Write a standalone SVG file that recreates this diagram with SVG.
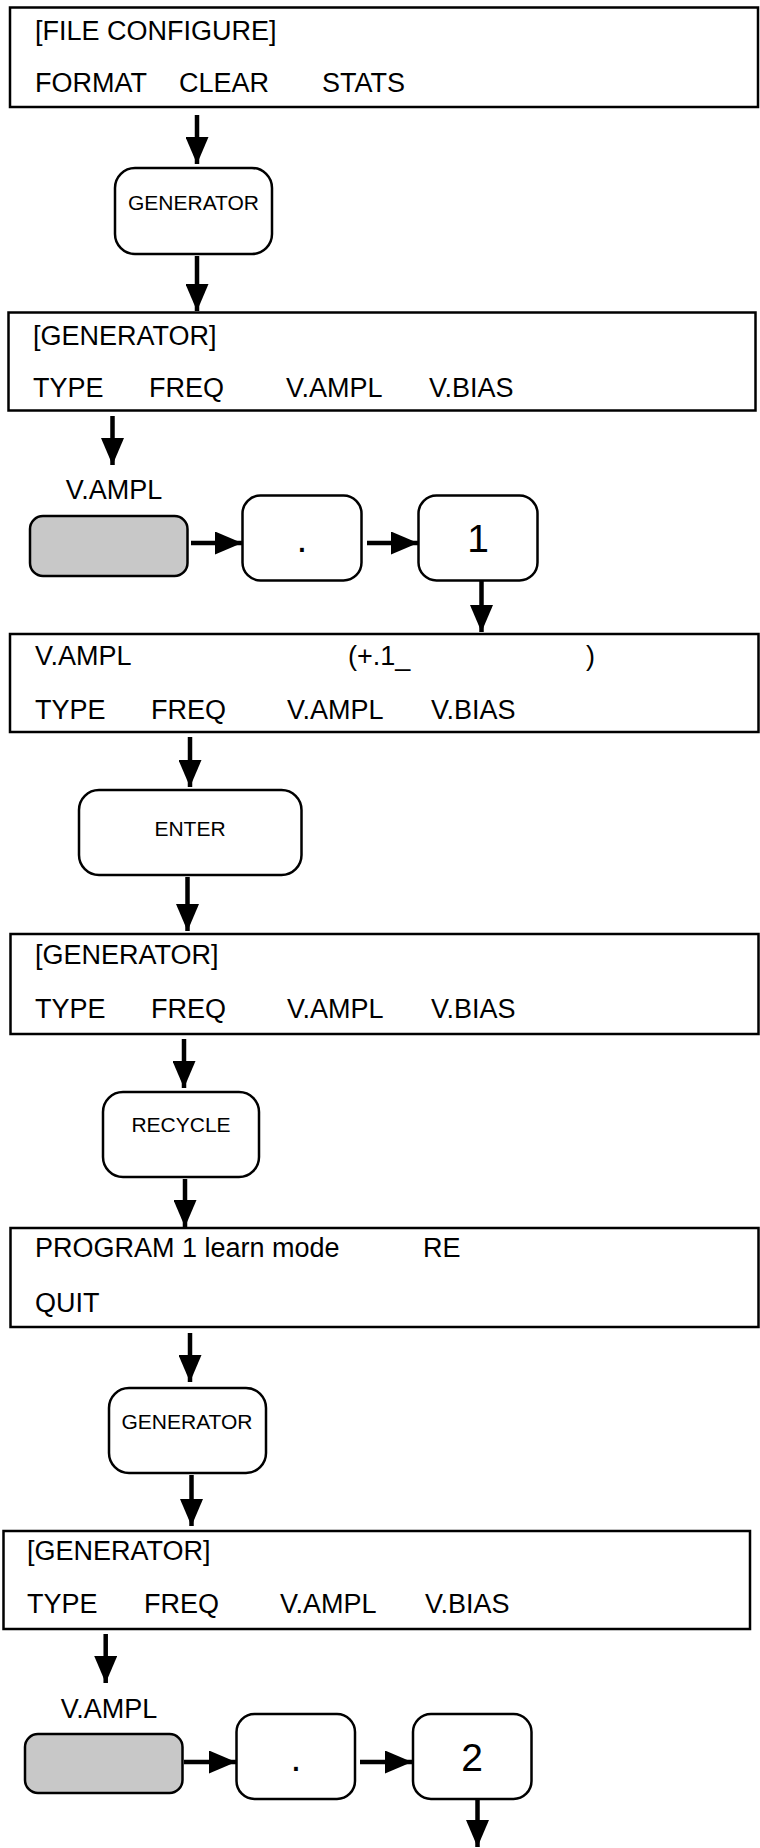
<svg xmlns="http://www.w3.org/2000/svg" width="760" height="1848" viewBox="0 0 760 1848">
<defs>
<style>
text{font-family:"Liberation Sans",Arial,sans-serif;fill:#000}
.scr{fill:#fff;stroke:#000;stroke-width:2.5}
.btn{fill:#fff;stroke:#000;stroke-width:2.5}
.gray{fill:#c8c8c8;stroke:#000;stroke-width:2.5}
.t{font-size:27px}
.b{font-size:21px;text-anchor:middle}
.k{font-size:39px;text-anchor:middle}
.c line{stroke:#000;stroke-width:4.5;marker-end:url(#ah)}
</style>
<marker id="ah" markerUnits="userSpaceOnUse" markerWidth="28" markerHeight="23" refX="27" refY="11.5" orient="auto">
<path d="M0,0 L27,11.5 L0,23 Z" fill="#000"/>
</marker>
</defs>
<rect width="760" height="1848" fill="#fff"/>

<g id="screen-file-configure">
<rect class="scr" x="10" y="7.5" width="748" height="99.5"/>
<text class="t" x="35" y="39.5">[FILE CONFIGURE]</text>
<text class="t" x="35" y="91.5">FORMAT</text>
<text class="t" x="179" y="91.5">CLEAR</text>
<text class="t" x="322" y="91.5">STATS</text>
</g>

<g id="btn-generator-1">
<rect class="btn" x="115" y="168" width="157" height="86" rx="20"/>
<text class="b" x="193.5" y="210">GENERATOR</text>
</g>

<g id="screen-generator-1">
<rect class="scr" x="8.5" y="312.5" width="747" height="98"/>
<text class="t" x="33" y="345">[GENERATOR]</text>
<text class="t" x="33" y="396.5">TYPE</text>
<text class="t" x="149" y="396.5">FREQ</text>
<text class="t" x="286" y="396.5">V.AMPL</text>
<text class="t" x="429" y="396.5">V.BIAS</text>
</g>

<g id="key-vampl-1">
<text class="t" x="114" y="499" text-anchor="middle">V.AMPL</text>
<rect class="gray" x="30" y="516" width="157.5" height="60" rx="13"/>
</g>

<g id="key-dot-1">
<rect class="btn" x="242.5" y="495.5" width="119" height="85" rx="18"/>
<text class="k" x="302" y="551.5">.</text>
</g>

<g id="key-1">
<rect class="btn" x="418.5" y="495.5" width="119" height="85" rx="18"/>
<text class="k" x="478" y="551.5">1</text>
</g>

<g id="screen-vampl-entry">
<rect class="scr" x="10" y="634" width="748.5" height="98"/>
<text class="t" x="35" y="665">V.AMPL</text>
<text class="t" x="348" y="665">(+.1_</text>
<text class="t" x="586" y="665">)</text>
<text class="t" x="35" y="719">TYPE</text>
<text class="t" x="151" y="719">FREQ</text>
<text class="t" x="287" y="719">V.AMPL</text>
<text class="t" x="431" y="719">V.BIAS</text>
</g>

<g id="btn-enter">
<rect class="btn" x="79" y="790" width="222.5" height="85" rx="20"/>
<text class="b" x="190" y="836">ENTER</text>
</g>

<g id="screen-generator-2">
<rect class="scr" x="10.5" y="934" width="748" height="100"/>
<text class="t" x="35" y="964">[GENERATOR]</text>
<text class="t" x="35" y="1018">TYPE</text>
<text class="t" x="151" y="1018">FREQ</text>
<text class="t" x="287" y="1018">V.AMPL</text>
<text class="t" x="431" y="1018">V.BIAS</text>
</g>

<g id="btn-recycle">
<rect class="btn" x="103" y="1092" width="156" height="85" rx="20"/>
<text class="b" x="181" y="1132">RECYCLE</text>
</g>

<g id="screen-program">
<rect class="scr" x="10.5" y="1228" width="748" height="99"/>
<text class="t" x="35" y="1257">PROGRAM 1 learn mode</text>
<text class="t" x="423" y="1257">RE</text>
<text class="t" x="35" y="1312">QUIT</text>
</g>

<g id="btn-generator-2">
<rect class="btn" x="109" y="1388" width="157" height="85" rx="20"/>
<text class="b" x="187" y="1429">GENERATOR</text>
</g>

<g id="screen-generator-3">
<rect class="scr" x="3.5" y="1531" width="746.5" height="98"/>
<text class="t" x="27" y="1560">[GENERATOR]</text>
<text class="t" x="27" y="1613">TYPE</text>
<text class="t" x="144" y="1613">FREQ</text>
<text class="t" x="280" y="1613">V.AMPL</text>
<text class="t" x="425" y="1613">V.BIAS</text>
</g>

<g id="key-vampl-2">
<text class="t" x="109" y="1718" text-anchor="middle">V.AMPL</text>
<rect class="gray" x="25" y="1734" width="157.5" height="59" rx="13"/>
</g>

<g id="key-dot-2">
<rect class="btn" x="236.5" y="1714" width="118.5" height="85" rx="18"/>
<text class="k" x="296" y="1770.5">.</text>
</g>

<g id="key-2">
<rect class="btn" x="413" y="1714" width="118.5" height="85" rx="18"/>
<text class="k" x="472" y="1770.5">2</text>
</g>

<g id="connectors" class="c">
<line x1="197" y1="115" x2="197" y2="164"/>
<line x1="197" y1="256" x2="197" y2="311"/>
<line x1="112.5" y1="416" x2="112.5" y2="465"/>
<line x1="191" y1="543" x2="242" y2="543"/>
<line x1="367" y1="543" x2="418" y2="543"/>
<line x1="481.5" y1="581" x2="481.5" y2="632"/>
<line x1="190" y1="737" x2="190" y2="787"/>
<line x1="187.5" y1="877" x2="187.5" y2="931"/>
<line x1="184" y1="1039" x2="184" y2="1088"/>
<line x1="185" y1="1179" x2="185" y2="1227"/>
<line x1="190" y1="1333" x2="190" y2="1382"/>
<line x1="191.5" y1="1475" x2="191.5" y2="1526"/>
<line x1="105.7" y1="1634" x2="105.7" y2="1683"/>
<line x1="184" y1="1762" x2="236" y2="1762"/>
<line x1="360" y1="1762" x2="412" y2="1762"/>
<line x1="477.5" y1="1800" x2="477.5" y2="1847"/>
</g>
</svg>
